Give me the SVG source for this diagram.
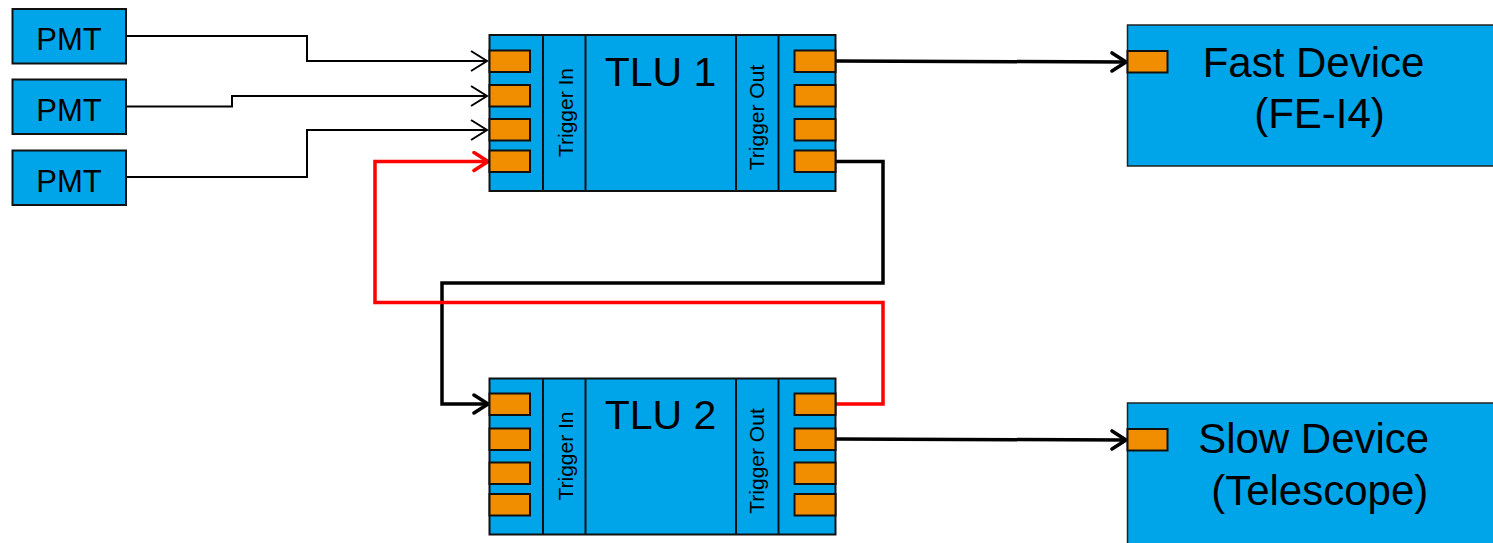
<svg xmlns="http://www.w3.org/2000/svg" width="1493" height="543" viewBox="0 0 1493 543">
<defs>
<style>
.blk{fill:#00A5E9;stroke:#111;stroke-width:2}
.port{fill:#F18E00;stroke:#111;stroke-width:2}
.dev{fill:#00A5E9;stroke:#222;stroke-width:1.5}
.t{font-family:"Liberation Sans",Arial,sans-serif;fill:#000}
.c{fill:none;stroke-linejoin:miter}
.thin{stroke:#000;stroke-width:2}
.thick{stroke:#000;stroke-width:3.5}
.red{stroke:#FF0000;stroke-width:3.5}
</style>
<marker id="ah" viewBox="0 0 20 22" refX="18" refY="11" markerWidth="20" markerHeight="22" markerUnits="userSpaceOnUse" orient="auto">
<path d="M2,1 L18,11 L2,21" fill="none" stroke="#000" stroke-width="2"/>
</marker>
<marker id="ahb" viewBox="0 0 20 22" refX="17" refY="11" markerWidth="20" markerHeight="22" markerUnits="userSpaceOnUse" orient="auto">
<path d="M3,2 L17,11 L3,20" fill="none" stroke="#000" stroke-width="3.5" stroke-linecap="round"/>
</marker>
<marker id="ahr" viewBox="0 0 20 22" refX="17" refY="11" markerWidth="20" markerHeight="22" markerUnits="userSpaceOnUse" orient="auto">
<path d="M3,2 L17,11 L3,20" fill="none" stroke="#FF0000" stroke-width="3.5" stroke-linecap="round"/>
</marker>
</defs>
<rect width="1493" height="543" fill="#fff"/>

<g id="connectors">
<polyline class="c thin" points="126,36 307,36 307,61 487,61" marker-end="url(#ah)"/>
<polyline class="c thin" points="126,106.5 232,106.5 232,96 487,96" marker-end="url(#ah)"/>
<polyline class="c thin" points="126,177 307,177 307,130 487,130" marker-end="url(#ah)"/>
<polyline class="c thick" points="836,61 1126,62" marker-end="url(#ahb)"/>
<polyline class="c thick" points="836,161.5 883,161.5 883,283 442,283 442,404 488,404" marker-end="url(#ahb)"/>
<polyline class="c red" points="836,404 883,404 883,302.5 375,302.5 375,161.5 488,161.5" marker-end="url(#ahr)"/>
<polyline class="c thick" points="836,439 1126,440" marker-end="url(#ahb)"/>
</g>

<g id="pmt1">
<rect class="blk" x="12.5" y="9" width="113.5" height="54.5"/>
<text class="t" x="69" y="50" font-size="31" text-anchor="middle">PMT</text>
</g>
<g id="pmt2">
<rect class="blk" x="12.5" y="79.5" width="113.5" height="54.5"/>
<text class="t" x="69" y="120.5" font-size="31" text-anchor="middle">PMT</text>
</g>
<g id="pmt3">
<rect class="blk" x="12.5" y="150.5" width="113.5" height="54.5"/>
<text class="t" x="69" y="191.5" font-size="31" text-anchor="middle">PMT</text>
</g>

<g id="tlu1">
<rect class="blk" x="489.5" y="35" width="346" height="156"/>
<line x1="543" y1="35" x2="543" y2="191" stroke="#111" stroke-width="2"/>
<line x1="585.5" y1="35" x2="585.5" y2="191" stroke="#111" stroke-width="2"/>
<line x1="736" y1="35" x2="736" y2="191" stroke="#111" stroke-width="2"/>
<line x1="778.5" y1="35" x2="778.5" y2="191" stroke="#111" stroke-width="2"/>
<rect class="port" x="489.5" y="50.5" width="40.5" height="21.5"/>
<rect class="port" x="489.5" y="85" width="40.5" height="21.5"/>
<rect class="port" x="489.5" y="119" width="40.5" height="21.5"/>
<rect class="port" x="489.5" y="150.5" width="40.5" height="21.5"/>
<rect class="port" x="794.5" y="50.5" width="41" height="21.5"/>
<rect class="port" x="794.5" y="85" width="41" height="21.5"/>
<rect class="port" x="794.5" y="119" width="41" height="21.5"/>
<rect class="port" x="794.5" y="150.5" width="41" height="21.5"/>
<text class="t" x="660.5" y="85.5" font-size="41" text-anchor="middle">TLU 1</text>
<text class="t" transform="translate(572.5,112.5) rotate(-90)" font-size="21" text-anchor="middle">Trigger In</text>
<text class="t" transform="translate(763.5,117.5) rotate(-90)" font-size="21" text-anchor="middle">Trigger Out</text>
</g>

<g id="tlu2">
<rect class="blk" x="489.5" y="378.5" width="346" height="156"/>
<line x1="543" y1="378.5" x2="543" y2="534.5" stroke="#111" stroke-width="2"/>
<line x1="585.5" y1="378.5" x2="585.5" y2="534.5" stroke="#111" stroke-width="2"/>
<line x1="736" y1="378.5" x2="736" y2="534.5" stroke="#111" stroke-width="2"/>
<line x1="778.5" y1="378.5" x2="778.5" y2="534.5" stroke="#111" stroke-width="2"/>
<rect class="port" x="489.5" y="393.5" width="40.5" height="21.5"/>
<rect class="port" x="489.5" y="428.5" width="40.5" height="21.5"/>
<rect class="port" x="489.5" y="462.5" width="40.5" height="21.5"/>
<rect class="port" x="489.5" y="494" width="40.5" height="21.5"/>
<rect class="port" x="794.5" y="393.5" width="41" height="21.5"/>
<rect class="port" x="794.5" y="428.5" width="41" height="21.5"/>
<rect class="port" x="794.5" y="462.5" width="41" height="21.5"/>
<rect class="port" x="794.5" y="494" width="41" height="21.5"/>
<text class="t" x="660.5" y="429" font-size="41" text-anchor="middle">TLU 2</text>
<text class="t" transform="translate(572.5,456) rotate(-90)" font-size="21" text-anchor="middle">Trigger In</text>
<text class="t" transform="translate(763.5,461) rotate(-90)" font-size="21" text-anchor="middle">Trigger Out</text>
</g>

<g id="fast-device">
<rect class="dev" x="1127.5" y="25" width="380" height="141"/>
<rect class="port" x="1127.5" y="51" width="40" height="21.5" stroke-width="1.5"/>
<text class="t" x="1313.5" y="76.5" font-size="42" text-anchor="middle">Fast Device</text>
<text class="t" x="1319.5" y="128.3" font-size="42" text-anchor="middle">(FE-I4)</text>
</g>

<g id="slow-device">
<rect class="dev" x="1127.5" y="403" width="380" height="160"/>
<rect class="port" x="1127.5" y="429" width="40" height="21.5" stroke-width="1.5"/>
<text class="t" x="1313.7" y="453.3" font-size="42" text-anchor="middle">Slow Device</text>
<text class="t" x="1319.7" y="505" font-size="42" text-anchor="middle">(Telescope)</text>
</g>
</svg>
